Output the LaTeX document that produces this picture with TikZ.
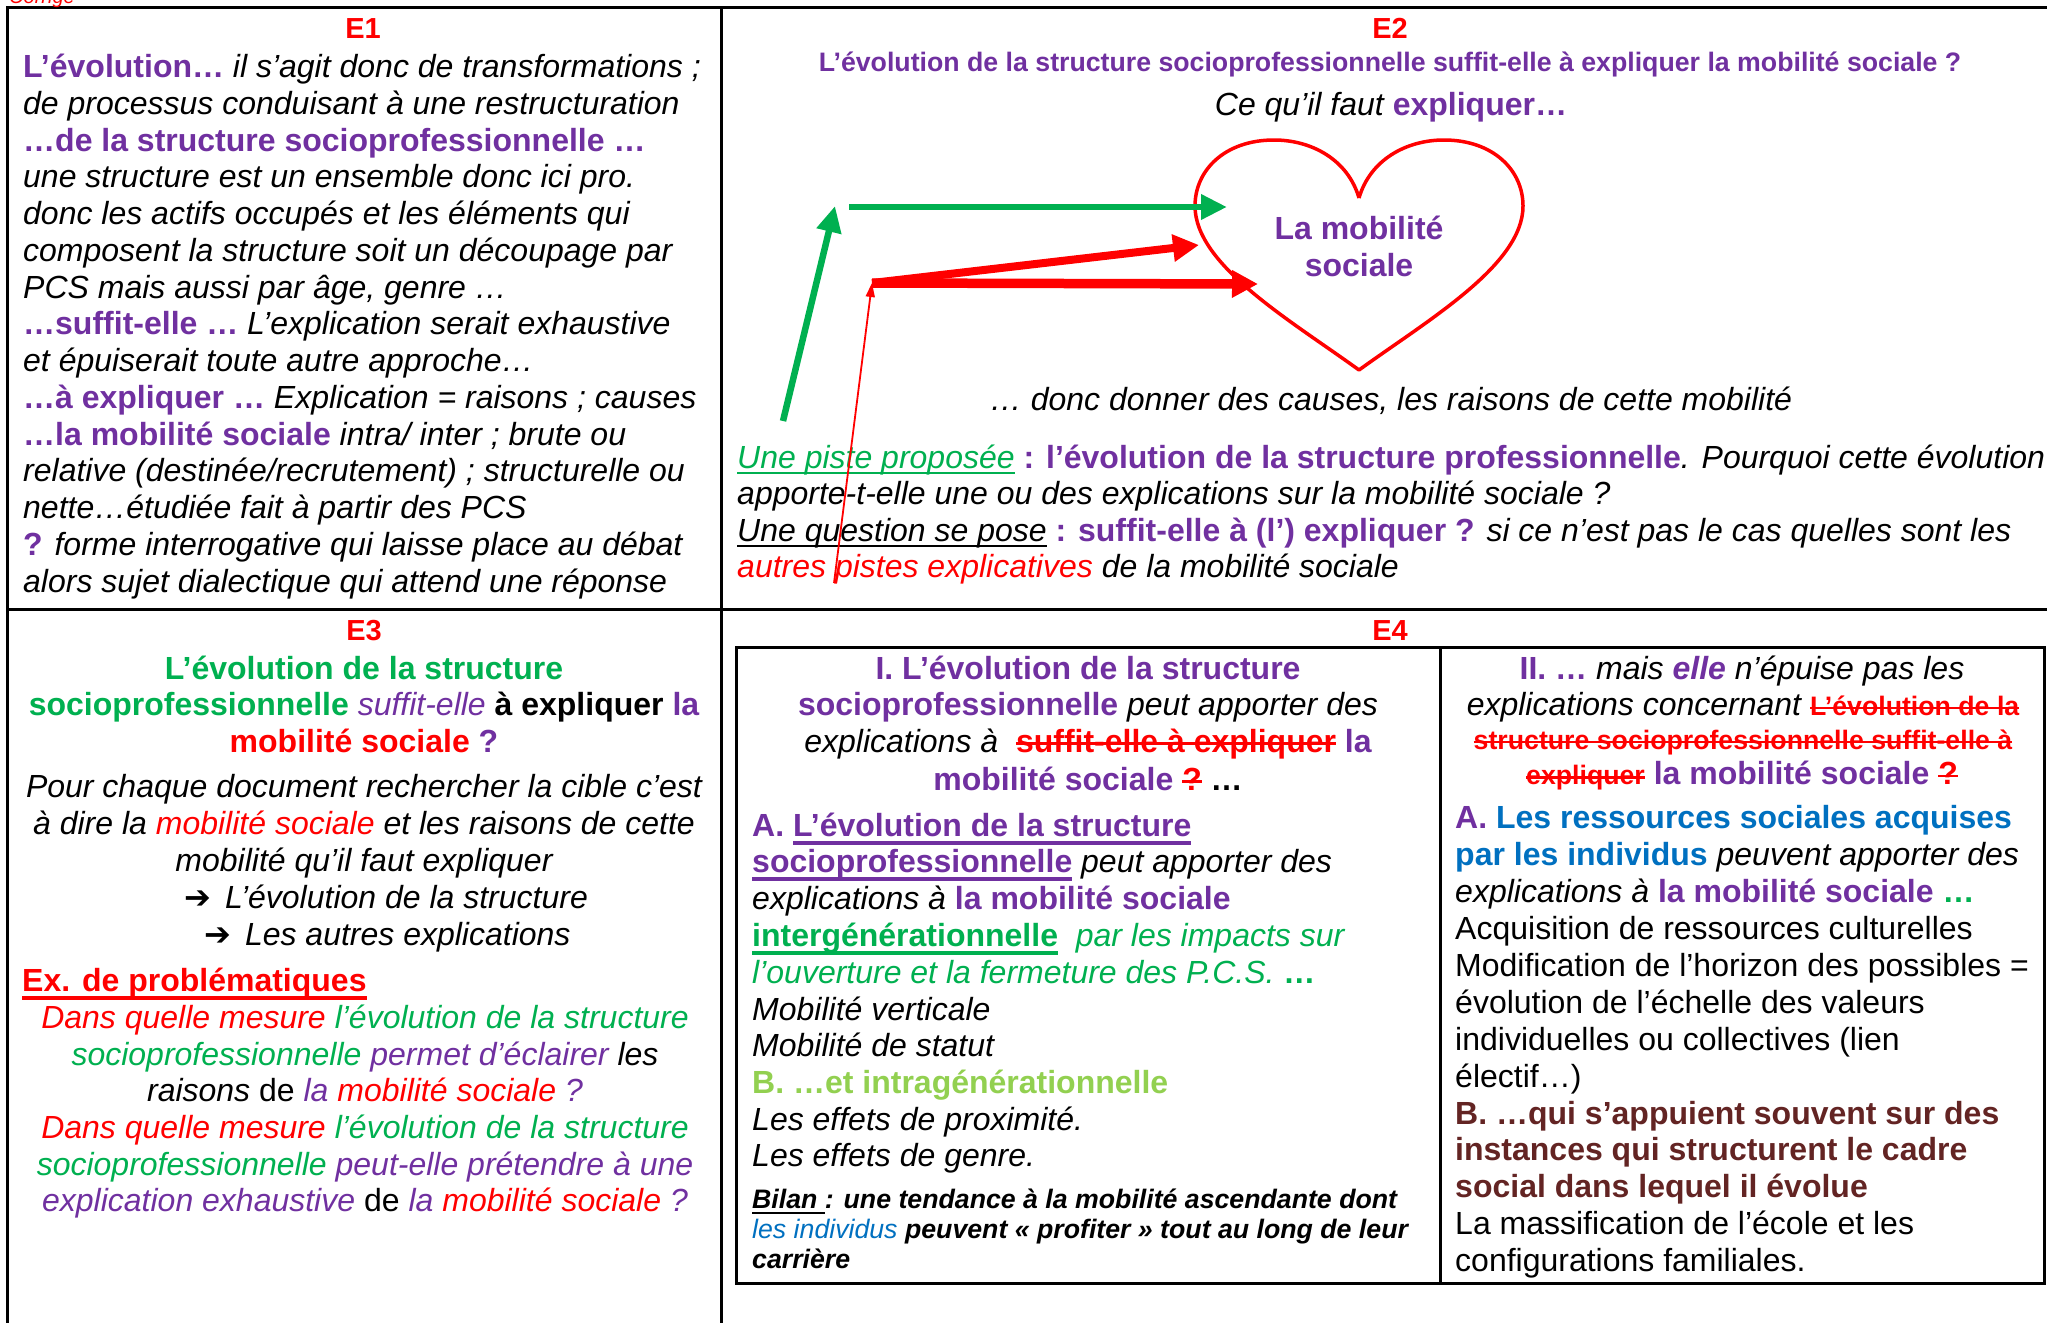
\documentclass[tikz,border=0pt]{standalone}
\usepackage{fontspec}
\setmainfont{Liberation Sans}
\newfontfamily\djv{DejaVu Sans}
\usetikzlibrary{arrows.meta}
\definecolor{pur}{HTML}{7030A0}
\definecolor{rd}{HTML}{FF0000}
\definecolor{gr}{HTML}{00B050}
\definecolor{lgr}{HTML}{92D050}
\definecolor{bl}{HTML}{0070C0}
\definecolor{mar}{HTML}{632423}
\newcommand\ita[1]{{\itshape #1}}
\newcommand\bfk[1]{{\bfseries #1}}
\newcommand\bfp[1]{\textcolor{pur}{\bfseries #1}}
\newcommand\itp[1]{\textcolor{pur}{\itshape #1}}
\newcommand\itr[1]{\textcolor{rd}{\itshape #1}}
\newcommand\itg[1]{\textcolor{gr}{\itshape #1}}
\newcommand\bfr[1]{\textcolor{rd}{\bfseries #1}}
\newcommand\bfg[1]{\textcolor{gr}{\bfseries #1}}
\newcommand\bfb[1]{\textcolor{bl}{\bfseries #1}}
\newsavebox\ulbx
\newcommand\ulgen[3]{\sbox\ulbx{#3}\rlap{\rule[#1]{\wd\ulbx}{#2}}\usebox\ulbx}
\newcommand\ulA[1]{\ulgen{-6pt}{2.5pt}{#1}}
\newcommand\ulB[1]{\ulgen{-8.5pt}{4pt}{#1}}
\newcommand\strk[1]{\ulgen{0.22em}{2.5pt}{#1}}
\newcommand\smf{\fontsize{26.7}{30}\selectfont}
\newcommand\TxL[4]{\node[txt,anchor=base west] (#1) at (#2,#3) {#4};}
\newcommand\TxC[4]{\node[txt,anchor=base] (#1) at (#2,#3) {#4};}
\begin{document}
\begin{tikzpicture}[x=1pt,y=-1pt,
  txt/.style={inner sep=0pt,font=\fontsize{32}{36.6}\selectfont},
  sml/.style={inner sep=0pt,font=\smf},
  lbl/.style={inner sep=0pt,anchor=base,text=rd,font=\fontsize{29}{32}\selectfont\bfseries},
  tabline/.style={draw=black,line width=3pt},
  garrow/.style={draw=gr,line width=6.5pt,-{Triangle[length=26pt,width=24pt]}},
  rarrow/.style={draw=rd,line width=8pt,-{Triangle[length=26pt,width=26pt]}},
  rthin/.style={draw=rd,line width=1.8pt,-{Triangle[length=14pt,width=9pt]}}]
\useasboundingbox (0,0) rectangle (2047,1322);
\fill[white] (0,0) rectangle (2047,1322);
% table
\draw[tabline] (7.5,1400) -- (7.5,7.5) -- (2100,7.5);
\draw[tabline] (7.5,609) -- (2100,609);
\draw[tabline] (721,7.5) -- (721,1400);
\draw[tabline] (736,647) rectangle (2044,1283);
\draw[tabline] (1440,647) -- (1440,1283);
\node[inner sep=0pt,anchor=base west,text=rd,font=\fontsize{20}{24}\selectfont\itshape] (corr) at (9,4) {Corrigé};
% ---------- E1
\node[lbl] (e1) at (363,38.5) {E1};
\TxL{e1a}{23}{77.5}{\bfp{L’évolution…} \ita{il s’agit donc de transformations ;}}
\TxL{e1b}{23}{114.25}{\ita{de processus conduisant à une restructuration}}
\TxL{e1c}{23}{151}{\bfp{…de la structure socioprofessionnelle …}}
\TxL{e1d}{23}{187.75}{\ita{une structure est un ensemble donc ici pro.}}
\TxL{e1e}{23}{224.5}{\ita{donc les actifs occupés et les éléments qui}}
\TxL{e1f}{23}{261.25}{\ita{composent la structure soit un découpage par}}
\TxL{e1g}{23}{298}{\ita{PCS mais aussi par âge, genre …}}
\TxL{e1h}{23}{334.75}{\bfp{…suffit-elle …} \ita{L’explication serait exhaustive}}
\TxL{e1i}{23}{371.5}{\ita{et épuiserait toute autre approche…}}
\TxL{e1j}{23}{408.25}{\bfp{…à expliquer …} \ita{Explication = raisons ; causes}}
\TxL{e1k}{23}{445}{\bfp{…la mobilité sociale} \ita{intra/ inter ; brute ou}}
\TxL{e1l}{23}{481.75}{\ita{relative (destinée/recrutement) ; structurelle ou}}
\TxL{e1m}{23}{518.5}{\ita{nette…étudiée fait à partir des PCS}}
\TxL{e1n}{23}{555.25}{\bfp{?} \ita{forme interrogative qui laisse place au débat}}
\TxL{e1o}{23}{592}{\ita{alors sujet dialectique qui attend une réponse}}
% ---------- E2
\node[lbl] (e2) at (1390,38.5) {E2};
\node[sml,anchor=base,text=pur,font=\smf\bfseries] (e2t) at (1390,71.5) {L’évolution de la structure socioprofessionnelle suffit-elle à expliquer la mobilité sociale ?};
\TxC{e2c}{1391}{115.5}{\ita{Ce qu’il faut} \bfp{expliquer…}}
\draw[rd,line width=3.5pt,line join=round] (1359,198) .. controls (1348,160) and (1312,140) .. (1274,140) .. controls (1225,140) and (1195,170) .. (1195,206) .. controls (1195,265) and (1290,320) .. (1359,370) .. controls (1428,320) and (1523,265) .. (1523,206) .. controls (1523,170) and (1493,140) .. (1444,140) .. controls (1406,140) and (1370,160) .. (1359,198);
\TxC{ms1}{1359}{239.5}{\bfp{La mobilité}}
\TxC{ms2}{1359}{276.5}{\bfp{sociale}}
\TxC{e2d}{1391}{410.5}{\ita{… donc donner des causes, les raisons de cette mobilité}}
\TxL{e2p1}{737}{468}{\textcolor{gr}{\itshape\ulA{Une piste proposée}}\bfp{ : l’évolution de la structure professionnelle}\ita{. Pourquoi cette évolution}}
\TxL{e2p2}{737}{504.6}{\ita{apporte-t-elle une ou des explications sur la mobilité sociale ?}}
\TxL{e2p3}{737}{541.2}{{\itshape\ulA{Une question se pose}}\bfp{ : suffit-elle à (l’) expliquer ?} \ita{si ce n’est pas le cas quelles sont les}}
\TxL{e2p4}{737}{577.8}{\itr{autres pistes explicatives} \ita{de la mobilité sociale}}
% arrows
\coordinate (g1s) at (783,421);
\coordinate (g1e) at (835,206);
\coordinate (g2s) at (849,207);
\coordinate (g2e) at (1227,207);
\coordinate (rs) at (872,283);
\coordinate (r1e) at (1199,245);
\coordinate (r2e) at (1258,284);
\coordinate (r0s) at (834,583);
\draw[garrow] (g1s) -- (g1e);
\draw[garrow] (g2s) -- (g2e);
\draw[rarrow] (rs) -- (r1e);
\draw[rarrow,line width=9.5pt] (rs) -- (r2e);
\draw[rthin] (r0s) -- (rs);
% ---------- E3
\node[lbl] (e3) at (364,640.5) {E3};
\TxC{e3a}{364}{679}{\bfg{L’évolution de la structure}}
\TxC{e3b}{364}{715.5}{\bfg{socioprofessionnelle} \itp{suffit-elle} \bfk{à expliquer} \bfp{la}}
\TxC{e3c}{364}{752}{\bfr{mobilité sociale} \bfp{?}}
\TxC{e3d}{364}{797}{\ita{Pour chaque document rechercher la cible c’est}}
\TxC{e3e}{364}{834}{\ita{à dire la} \itr{mobilité sociale} \ita{et les raisons de cette}}
\TxC{e3f}{364}{871}{\ita{mobilité qu’il faut expliquer}}
\TxL{e3g}{184}{908}{{\djv ➔}\hspace{14pt}\ita{L’évolution de la structure}}
\TxL{e3h}{204}{945}{{\djv ➔}\hspace{14pt}\ita{Les autres explications}}
\TxL{e3i}{22}{991}{\textcolor{rd}{\bfseries\ulgen{-9pt}{4.5pt}{Ex. de problématiques}}}
\TxC{e3j}{365}{1028}{\itr{Dans quelle mesure} \itg{l’évolution de la structure}}
\TxC{e3k}{365}{1065}{\itg{socioprofessionnelle} \itp{permet d’éclairer} \ita{les}}
\TxC{e3l}{365}{1101.5}{\ita{raisons} de \itp{la} \itr{mobilité sociale} \itp{?}}
\TxC{e3m}{365}{1138}{\itr{Dans quelle mesure} \itg{l’évolution de la structure}}
\TxC{e3n}{365}{1175}{\itg{socioprofessionnelle} \itp{peut-elle prétendre à une}}
\TxC{e3o}{365}{1211.5}{\itp{explication exhaustive} de \itp{la} \itr{mobilité sociale} \itp{?}}
% ---------- E4
\node[lbl] (e4) at (1390,640.5) {E4};
\TxC{e4a}{1088}{679}{\bfp{I. L’évolution de la structure}}
\TxC{e4b}{1088}{715.5}{\bfp{socioprofessionnelle} \ita{peut apporter des}}
\TxC{e4c}{1088}{752}{\ita{explications à}\ \ \textcolor{rd}{\bfseries\strk{suffit-elle à expliquer}} \bfp{la}}
\TxC{e4d}{1088}{790}{\bfp{mobilité sociale} \textcolor{rd}{\bfseries\strk{?}} \bfk{…}}
\TxL{e4e}{752}{836}{\textcolor{pur}{\bfseries A. \ulB{L’évolution de la structure}}}
\TxL{e4f}{752}{872.5}{\textcolor{pur}{\bfseries\ulB{socioprofessionnelle}} \ita{peut apporter des}}
\TxL{e4g}{752}{909}{\ita{explications à} \bfp{la mobilité sociale}}
\TxL{e4h}{752}{946}{\textcolor{gr}{\bfseries\ulB{intergénérationnelle}}\ \ \itg{par les impacts sur}}
\TxL{e4i}{752}{983}{\itg{l’ouverture et la fermeture des P.C.S.} \bfg{…}}
\TxL{e4j}{752}{1020}{\ita{Mobilité verticale}}
\TxL{e4k}{752}{1056.5}{\ita{Mobilité de statut}}
\TxL{e4l}{752}{1093}{\textcolor{lgr}{\bfseries B. …et intragénérationnelle}}
\TxL{e4m}{752}{1130}{\ita{Les effets de proximité.}}
\TxL{e4n}{752}{1166.5}{\ita{Les effets de genre.}}
\node[sml,anchor=base west,font=\smf\bfseries\itshape] (e4o) at (752,1208) {\ulA{Bilan }: une tendance à la mobilité ascendante dont};
\node[sml,anchor=base west,font=\smf\bfseries\itshape] (e4p) at (752,1238) {\textcolor{bl}{\mdseries les individus} peuvent « profiter » tout au long de leur};
\node[sml,anchor=base west,font=\smf\bfseries\itshape] (e4q) at (752,1268) {carrière};
% right column
\TxC{e4r}{1742}{679}{\bfp{II. …} \ita{mais} \textcolor{pur}{\bfseries\itshape elle} \ita{n’épuise pas les}}
\TxC{e4s}{1743}{715}{\ita{explications concernant} {\smf\textcolor{rd}{\bfseries\strk{L’évolution de la}}}}
\node[sml,anchor=base,text=rd,font=\smf\bfseries] (e4t) at (1743,749) {\strk{structure socioprofessionnelle suffit-elle à}};
\TxC{e4u}{1742}{784.5}{{\smf\textcolor{rd}{\bfseries\strk{expliquer}}} \bfp{la mobilité sociale} \textcolor{rd}{\bfseries\strk{?}}}
\TxL{e4v}{1455}{828.5}{\bfp{A.} \bfb{Les ressources sociales acquises}}
\TxL{e4w}{1455}{865.4}{\bfb{par les individus} \ita{peuvent apporter des}}
\TxL{e4x}{1455}{902.2}{\ita{explications à} \bfp{la mobilité sociale} \bfg{…}}
\TxL{e4y}{1455}{939}{Acquisition de ressources culturelles}
\TxL{e4z}{1455}{976}{Modification de l’horizon des possibles =}
\TxL{e4aa}{1455}{1013}{évolution de l’échelle des valeurs}
\TxL{e4ab}{1455}{1050}{individuelles ou collectives (lien}
\TxL{e4ac}{1455}{1087}{électif…)}
\TxL{e4ad}{1455}{1124}{\textcolor{mar}{\bfseries B. …qui s’appuient souvent sur des}}
\TxL{e4ae}{1455}{1160.5}{\textcolor{mar}{\bfseries instances qui structurent le cadre}}
\TxL{e4af}{1455}{1197}{\textcolor{mar}{\bfseries social dans lequel il évolue}}
\TxL{e4ag}{1455}{1234}{La massification de l’école et les}
\TxL{e4ah}{1455}{1271}{configurations familiales.}
\end{tikzpicture}
\end{document}
